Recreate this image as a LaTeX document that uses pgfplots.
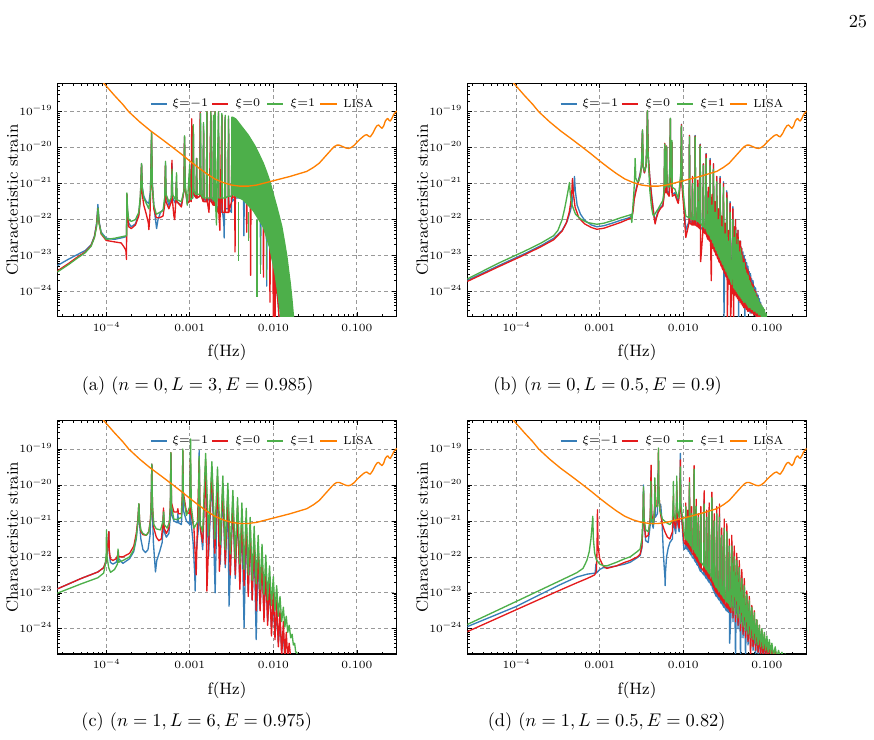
\RequirePackage{fix-cm}
\documentclass[border=0pt]{standalone}
\usepackage{pgfplots}
\usepackage{pgfplotstable}
\pgfplotsset{compat=1.18}
\definecolor{cB}{HTML}{377EB8}
\definecolor{cR}{HTML}{E41A1C}
\definecolor{cG}{HTML}{4DAF4A}
\definecolor{cO}{HTML}{FF7F00}
\newcommand{\ep}[1]{10\raisebox{2.5pt}{\fontsize{4.4}{5}\selectfont −#1}}
\tikzset{capt/.style={font=\fontsize{10.3}{12}\selectfont},
  lgt/.style={font=\fontsize{6.5}{7.5}\selectfont, anchor=west, inner sep=0pt}}
\pgfplotstableread{
x y
-4.07 -18.10
-3.9 -18.55
-3.8 -18.8
-3.73 -19.0
-3.6 -19.28
-3.47 -19.53
-3.33 -19.77
-3.2 -20.0
-3.1 -20.18
-3.0 -20.37
-2.9 -20.55
-2.8 -20.72
-2.7 -20.87
-2.6 -20.97
-2.5 -21.04
-2.4 -21.07
-2.3 -21.07
-2.2 -21.04
-2.1 -20.98
-2.0 -20.92
-1.9 -20.86
-1.8 -20.8
-1.7 -20.73
-1.6 -20.66
-1.52 -20.55
-1.45 -20.43
-1.4 -20.3
-1.35 -20.17
-1.3 -20.04
-1.27 -19.97
-1.24 -19.93
-1.21 -19.93
-1.17 -19.97
-1.13 -20.01
-1.1 -20.02
-1.07 -20.0
-1.03 -19.93
-1.0 -19.85
-0.96 -19.76
-0.92 -19.68
-0.9 -19.65
-0.88 -19.64
-0.86 -19.68
-0.84 -19.7
-0.81 -19.6
-0.78 -19.46
-0.76 -19.39
-0.74 -19.37
-0.72 -19.42
-0.7 -19.46
-0.68 -19.4
-0.66 -19.26
-0.64 -19.2
-0.63 -19.19
-0.615 -19.24
-0.6 -19.26
-0.58 -19.18
-0.56 -19.08
-0.54 -19.02
-0.52 -18.98
}\lisa
\pgfplotstableread{
x g r b
-1.99 -21.5 -21.8 -21.6
-1.97 -21.9 -22.5 -22.3
-1.932 -21.95 -22.1 -22.05
-1.926 -19.7 -19.66 -19.66
-1.92 -21.95 -22.1 -22.05
-1.895 -22.0 -22.15 -22.1
-1.89 -21.0 -20.8 -20.9
-1.885 -22.0 -22.15 -22.1
-1.864 -22.0 -22.15 -22.1
-1.858 -19.7 -19.68 -19.66
-1.852 -22.0 -22.15 -22.1
-1.83 -22.05 -22.2 -22.15
-1.825 -21.1 -20.9 -21.0
-1.82 -22.05 -22.2 -22.15
-1.804 -22.1 -22.25 -22.2
-1.798 -19.95 -19.92 -19.9
-1.792 -22.1 -23.17 -22.2
-1.766 -22.2 -22.35 -22.3
-1.76 -20.5 -20.45 -20.45
-1.754 -22.2 -22.35 -22.3
-1.733 -22.25 -22.4 -22.35
-1.727 -20.3 -20.18 -20.16
-1.721 -22.3 -22.45 -22.4
-1.705 -22.4 -22.55 -22.5
-1.7 -21.4 -21.1 -21.2
-1.695 -22.4 -22.55 -22.5
-1.685 -22.45 -22.6 -22.55
-1.679 -20.5 -20.35 -20.3
-1.673 -22.5 -22.65 -22.6
-1.665 -22.55 -23.7 -22.65
-1.655 -21.6 -21.3 -21.4
-1.65 -22.6 -22.75 -22.7
-1.645 -22.65 -22.8 -22.75
-1.639 -20.6 -20.45 -20.45
-1.633 -22.7 -22.85 -22.8
-1.625 -22.75 -22.9 -22.85
-1.62 -21.8 -21.5 -21.6
-1.615 -22.8 -22.95 -22.9
-1.606 -22.85 -23.0 -22.95
-1.6 -20.95 -20.8 -20.8
-1.594 -22.9 -23.05 -23.0
-1.585 -22.95 -23.1 -23.05
-1.58 -22.0 -21.7 -21.8
-1.575 -23.0 -23.15 -23.1
-1.565 -23.05 -23.2 -23.15
-1.559 -21.0 -20.85 -20.8
-1.553 -23.1 -23.25 -23.2
-1.545 -23.15 -23.3 -23.25
-1.54 -22.2 -21.9 -22.0
-1.535 -23.2 -23.35 -23.3
-1.525 -23.25 -23.4 -23.35
-1.519 -21.1 -21.0 -20.95
-1.513 -23.3 -23.45 -24.8
-1.505 -23.35 -23.5 -23.45
-1.5 -22.4 -22.1 -22.2
-1.495 -23.4 -23.55 -23.5
-1.485 -23.45 -23.6 -23.55
-1.479 -21.4 -21.25 -21.2
-1.473 -23.5 -24.8 -23.6
-1.465 -23.55 -23.7 -23.65
-1.46 -22.6 -22.3 -22.4
-1.455 -23.6 -23.75 -23.7
-1.446 -23.65 -23.8 -23.75
-1.44 -21.8 -21.55 -21.5
-1.434 -23.7 -24.8 -23.8
-1.42 -23.8 -23.95 -23.9
-1.407 -22.0 -21.7 -21.64
-1.398 -23.9 -24.8 -24.0
-1.39 -22.5 -22.2 -22.3
-1.382 -23.95 -24.1 -24.05
-1.375 -22.3 -22.0 -22.0
-1.367 -24.0 -24.15 -24.1
-1.36 -22.7 -22.4 -22.4
-1.352 -24.05 -24.2 -24.15
-1.345 -22.55 -22.3 -22.3
-1.337 -24.1 -24.25 -24.8
-1.33 -22.9 -22.6 -22.6
-1.322 -24.15 -24.3 -24.25
-1.315 -22.8 -22.6 -22.6
-1.307 -24.2 -24.35 -24.3
-1.3 -23.0 -22.8 -22.8
-1.292 -24.25 -24.4 -24.35
-1.285 -23.2 -23.0 -22.9
-1.277 -24.3 -24.45 -24.4
-1.27 -23.2 -23.1 -23.0
-1.262 -24.3 -24.45 -24.8
-1.255 -23.4 -23.2 -23.1
-1.247 -24.35 -24.5 -24.45
-1.24 -23.5 -23.35 -23.2
-1.232 -24.4 -24.55 -24.5
-1.225 -23.55 -23.4 -23.3
-1.217 -24.45 -24.55 -24.55
-1.21 -23.7 -23.55 -23.45
-1.202 -24.45 -24.55 -24.6
-1.195 -23.75 -23.6 -23.5
-1.187 -24.5 -24.6 -24.6
-1.18 -23.85 -23.75 -23.65
-1.172 -24.5 -24.6 -24.6
-1.165 -23.9 -23.8 -23.7
-1.157 -24.55 -24.65 -24.65
-1.15 -24.0 -23.95 -23.85
-1.142 -24.55 -24.65 -24.65
-1.135 -24.05 -24.0 -23.9
-1.127 -24.6 -24.7 -24.7
-1.12 -24.15 -24.1 -24.05
-1.112 -24.6 -24.7 -24.7
-1.105 -24.2 -24.2 -24.1
-1.097 -24.65 -24.75 -24.75
-1.09 -24.3 -24.3 -24.2
-1.082 -24.65 -24.75 -24.75
-1.075 -24.35 -24.35 -24.3
-1.067 -24.7 -24.8 -24.8
-1.06 -24.4 -24.45 -24.4
-1.052 -24.7 -24.8 -24.8
-1.045 -24.45 -24.5 -24.5
-1.037 -24.75 -24.8 -24.8
-1.03 -24.5 -24.6 -24.6
-1.02 -24.8 -24.8 -24.8
-1.01 -24.6 -24.7 -24.7
-1.0 -24.8 -24.8 -24.8
}\tailb
\pgfplotstableread{
x g r b
-1.99 -21.3 -21.6 -21.8
-1.975 -21.5 -21.65 -21.75
-1.97 -20.6 -20.5 -20.7
-1.965 -21.5 -21.65 -21.75
-1.95 -21.55 -21.7 -21.8
-1.945 -20.9 -20.7 -21.0
-1.94 -21.6 -21.75 -21.85
-1.931 -21.6 -21.75 -21.85
-1.926 -19.93 -19.8 -20.1
-1.921 -21.65 -21.8 -21.9
-1.905 -21.7 -21.85 -21.95
-1.9 -20.8 -20.6 -20.9
-1.895 -21.75 -21.9 -22.0
-1.875 -21.8 -21.95 -22.05
-1.87 -19.56 -19.46 -19.7
-1.865 -21.85 -22.0 -22.1
-1.85 -21.9 -22.05 -22.15
-1.845 -20.6 -20.4 -20.7
-1.84 -21.95 -22.1 -22.2
-1.823 -22.0 -22.15 -22.25
-1.818 -20.9 -20.8 -21.0
-1.813 -22.05 -22.2 -22.3
-1.795 -22.15 -22.3 -22.4
-1.79 -20.8 -20.6 -20.9
-1.785 -22.15 -22.3 -22.4
-1.755 -22.25 -22.4 -22.5
-1.75 -20.53 -20.16 -20.4
-1.745 -22.25 -22.4 -22.5
-1.725 -22.35 -22.5 -22.6
-1.72 -20.9 -20.7 -20.9
-1.715 -22.35 -22.5 -22.6
-1.695 -22.45 -22.6 -22.7
-1.69 -20.7 -20.5 -20.7
-1.685 -22.45 -22.6 -22.7
-1.663 -22.55 -22.7 -22.8
-1.658 -20.35 -20.2 -20.4
-1.653 -22.6 -22.75 -22.85
-1.635 -22.7 -22.85 -22.95
-1.63 -21.0 -20.8 -21.0
-1.625 -22.75 -22.9 -23.0
-1.605 -22.85 -23.0 -23.1
-1.6 -20.8 -20.6 -20.8
-1.595 -22.85 -23.0 -23.1
-1.572 -22.95 -23.1 -23.2
-1.567 -20.9 -20.53 -20.8
-1.562 -22.95 -23.1 -23.2
-1.545 -23.05 -23.2 -23.3
-1.54 -21.4 -21.2 -21.4
-1.535 -23.05 -23.2 -23.3
-1.515 -23.15 -23.3 -23.4
-1.51 -21.2 -20.95 -21.2
-1.505 -23.15 -23.3 -23.4
-1.484 -23.25 -23.4 -23.5
-1.479 -21.3 -21.08 -21.3
-1.474 -23.25 -23.4 -23.5
-1.455 -23.3 -23.45 -23.55
-1.45 -21.7 -21.5 -21.7
-1.445 -23.35 -23.5 -24.4
-1.43 -23.4 -23.55 -23.65
-1.42 -21.7 -21.4 -21.6
-1.405 -23.5 -23.7 -23.8
-1.39 -22.0 -21.7 -21.9
-1.375 -23.6 -23.8 -24.8
-1.36 -22.1 -21.9 -22.1
-1.345 -23.7 -23.9 -24.0
-1.33 -22.3 -22.1 -22.3
-1.315 -23.85 -24.05 -24.8
-1.3 -22.6 -22.35 -22.55
-1.285 -23.95 -24.15 -24.25
-1.27 -22.8 -22.6 -22.8
-1.255 -24.05 -24.25 -24.8
-1.24 -23.05 -22.95 -23.1
-1.225 -24.15 -24.35 -24.45
-1.21 -23.2 -23.1 -23.3
-1.195 -24.25 -24.8 -24.55
-1.18 -23.4 -23.35 -23.5
-1.165 -24.3 -24.5 -24.6
-1.15 -23.55 -23.5 -23.7
-1.135 -24.4 -24.6 -24.8
-1.12 -23.75 -23.75 -23.9
-1.105 -24.45 -24.65 -24.75
-1.09 -23.9 -23.9 -24.05
-1.075 -24.5 -24.8 -24.8
-1.06 -24.0 -24.05 -24.2
-1.045 -24.55 -24.75 -24.8
-1.03 -24.1 -24.15 -24.35
-1.015 -24.6 -24.8 -24.8
-1.0 -24.2 -24.3 -24.5
-0.985 -24.65 -24.8 -24.8
-0.97 -24.3 -24.4 -24.8
-0.955 -24.7 -24.8 -24.8
-0.94 -24.4 -24.5 -24.8
-0.92 -24.75 -24.8 -24.8
-0.9 -24.5 -24.6 -24.8
-0.88 -24.8 -24.8 -24.8
-0.86 -24.6 -24.65 -24.8
-0.84 -24.8 -24.8 -24.8
-0.82 -24.65 -24.8 -24.8
-0.8 -24.8 -24.8 -24.8
-0.78 -24.7 -24.8 -24.8
-0.77 -24.8 -24.8 -24.8
}\taild
\pgfplotsset{
  panel/.style={
    scale only axis, width=190.7pt, height=131.1pt,
    xmin=-4.585, xmax=-0.523, ymin=-24.70, ymax=-18.21,
    xtick={-4,-3,-2,-1},
    xticklabels={\ep{4},0.001,0.010,0.100},
    ytick={-24,-23,-22,-21,-20,-19},
    yticklabels={\ep{24},\ep{23},\ep{22},\ep{21},\ep{20},\ep{19}},
    minor xtick={-4.523,-4.398,-4.301,-4.222,-4.155,-4.097,-4.046,-3.699,-3.523,-3.398,-3.301,-3.222,-3.155,-3.097,-3.046,-2.699,-2.523,-2.398,-2.301,-2.222,-2.155,-2.097,-2.046,-1.699,-1.523,-1.398,-1.301,-1.222,-1.155,-1.097,-1.046,-0.699},
    minor ytick={-24.523,-24.398,-24.301,-24.222,-24.155,-24.097,-24.046,-23.699,-23.523,-23.398,-23.301,-23.222,-23.155,-23.097,-23.046,-22.699,-22.523,-22.398,-22.301,-22.222,-22.155,-22.097,-22.046,-21.699,-21.523,-21.398,-21.301,-21.222,-21.155,-21.097,-21.046,-20.699,-20.523,-20.398,-20.301,-20.222,-20.155,-20.097,-20.046,-19.699,-19.523,-19.398,-19.301,-19.222,-19.155,-19.097,-19.046,-18.699,-18.523,-18.398,-18.301,-18.222},
    tick pos=both, tick align=inside,
    major tick length=2.4pt, minor tick length=1.3pt,
    every tick/.style={black, line width=0.4pt},
    axis line style={line width=0.6pt},
    grid=major,
    major grid style={black!40, line width=0.45pt, dash pattern=on 2pt off 1.6pt},
    ticklabel style={font=\fontsize{6.2}{7}\selectfont},
    xticklabel style={anchor=base, yshift=-8.4pt},
    yticklabel style={anchor=base east, yshift=-2.0pt, xshift=-3pt, inner sep=0pt},
    xlabel={f(Hz)}, ylabel={Characteristic strain},
    xlabel style={font=\fontsize{9.3}{11}\selectfont, at={([yshift=-20.2pt]axis description cs:0.5,0)}, anchor=center},
    ylabel style={font=\fontsize{9.2}{11}\selectfont, at={([xshift=-25.3pt]axis description cs:0,0.5)}, anchor=center},
    every axis plot/.append style={line width=0.75pt, line join=round, forget plot},
  }
}
\newcommand{\lgd}[2]{%
  \begin{scope}[shift={(#1,#2)}]
  \draw[cB,line width=0.9pt] (84.7pt,0pt) -- (93.7pt,0pt);
  \node[lgt] at (96.6pt,0pt) {$\xi{=}{-}1$};
  \draw[cR,line width=0.9pt] (119.1pt,0pt) -- (128.1pt,0pt);
  \node[lgt] at (132pt,0pt) {$\xi{=}0$};
  \draw[cG,line width=0.9pt] (150pt,0pt) -- (159pt,0pt);
  \node[lgt] at (162.9pt,0pt) {$\xi{=}1$};
  \draw[cO,line width=0.9pt] (179.8pt,0pt) -- (189.3pt,0pt);
  \node[lgt] at (192.7pt,0pt) {LISA};
  \end{scope}}
\begin{document}
\begin{tikzpicture}
\path[use as bounding box] (0,0) rectangle (491pt,415.7pt);
% ---------------- (a)
\begin{axis}[panel, at={(32.19pt,237.8pt)}, anchor=south west]
\addplot[cB] coordinates {(-4.585,-23.28) (-4.45,-23.1) (-4.35,-22.98) (-4.25,-22.86) (-4.18,-22.7) (-4.14,-22.45) (-4.115,-22.1) (-4.099,-21.58) (-4.085,-22.05) (-4.06,-22.35) (-4.0,-22.52) (-3.9,-22.55) (-3.8,-22.5) (-3.757,-22.47) (-3.752,-21.3) (-3.745,-21.75) (-3.73,-22.1) (-3.7,-22.2) (-3.65,-22.12) (-3.61,-21.85) (-3.59,-21.4) (-3.577,-20.44) (-3.568,-21.1) (-3.55,-21.35) (-3.52,-21.5) (-3.49,-21.55) (-3.47,-21.2) (-3.458,-19.7) (-3.448,-21.0) (-3.43,-21.6) (-3.41,-22.0) (-3.397,-22.25) (-3.38,-22.0) (-3.35,-21.8) (-3.31,-21.7) (-3.295,-21.3) (-3.29,-20.42) (-3.283,-21.35) (-3.25,-21.6) (-3.22,-21.4) (-3.212,-20.45) (-3.205,-21.4) (-3.17,-21.55) (-3.16,-20.95) (-3.153,-21.5) (-3.1,-21.6) (-3.07,-21.2) (-3.063,-19.7) (-3.056,-21.1) (-3.03,-21.5) (-3.005,-21.5) (-3.0,-20.5) (-2.994,-21.45) (-2.965,-21.4) (-2.958,-19.4) (-2.951,-21.3) (-2.923,-21.4) (-2.918,-20.3) (-2.913,-21.4) (-2.88,-21.35) (-2.873,-19.05) (-2.866,-21.3) (-2.84,-21.4) (-2.835,-19.35) (-2.83,-21.4) (-2.8,-21.5) (-2.795,-19.05) (-2.79,-21.4) (-2.755,-21.5) (-2.748,-19.05) (-2.742,-21.4) (-2.72,-21.5) (-2.715,-19.25) (-2.71,-21.5) (-2.7,-21.6) (-2.696,-19.05) (-2.692,-21.6) (-2.66,-21.7) (-2.656,-19.05) (-2.652,-21.6) (-2.62,-21.8) (-2.616,-19.1) (-2.612,-21.7) (-2.592,-22.1) (-2.588,-22.51) (-2.584,-21.7) (-2.576,-19.15) (-2.572,-21.7) (-2.54,-21.7) (-2.536,-19.2) (-2.532,-21.7) (-2.5,-21.8) (-2.496,-19.25) (-2.492,-21.5) (-2.46,-21.4) (-2.456,-19.4) (-2.452,-21.4) (-2.42,-21.4) (-2.416,-19.5) (-2.412,-21.4) (-2.38,-21.4) (-2.376,-19.65) (-2.372,-21.4) (-2.356,-21.45) (-2.352,-22.45) (-2.348,-21.45) (-2.34,-19.8) (-2.336,-21.5) (-2.3,-21.55) (-2.296,-19.95) (-2.292,-21.6) (-2.26,-21.65) (-2.256,-20.1) (-2.252,-21.7) (-2.22,-21.75) (-2.216,-20.3) (-2.212,-21.8) (-2.18,-21.9) (-2.176,-20.5) (-2.172,-21.95) (-2.156,-22.0) (-2.152,-23.25) (-2.148,-22.0) (-2.14,-20.8) (-2.136,-22.1) (-2.1,-22.2) (-2.096,-21.1) (-2.092,-22.3) (-2.083,-22.4) (-2.079,-23.85) (-2.075,-22.5) (-2.06,-21.5) (-2.056,-22.6) (-2.03,-22.9) (-2.026,-22.0) (-2.022,-23.0) (-2.0,-23.2) (-1.996,-22.6) (-1.992,-23.3) (-1.96,-23.9) (-1.94,-24.4) (-1.93,-24.8)};
\addplot[cR] coordinates {(-4.585,-23.43) (-4.45,-23.22) (-4.35,-23.05) (-4.25,-22.9) (-4.18,-22.72) (-4.14,-22.48) (-4.115,-22.15) (-4.099,-21.7) (-4.085,-22.1) (-4.06,-22.4) (-4.0,-22.58) (-3.9,-22.62) (-3.82,-22.65) (-3.79,-22.75) (-3.765,-22.85) (-3.757,-23.11) (-3.753,-21.3) (-3.745,-21.8) (-3.73,-22.2) (-3.7,-22.25) (-3.65,-22.15) (-3.61,-21.9) (-3.59,-21.4) (-3.577,-20.46) (-3.568,-21.3) (-3.55,-21.6) (-3.52,-21.85) (-3.495,-22.1) (-3.489,-22.28) (-3.475,-21.8) (-3.462,-20.5) (-3.457,-19.58) (-3.45,-21.0) (-3.43,-21.7) (-3.4,-21.95) (-3.36,-21.95) (-3.32,-21.9) (-3.3,-21.6) (-3.292,-20.5) (-3.284,-21.5) (-3.25,-21.7) (-3.22,-21.5) (-3.213,-20.35) (-3.206,-21.5) (-3.19,-21.9) (-3.18,-22.0) (-3.17,-21.6) (-3.16,-20.95) (-3.153,-21.5) (-3.1,-21.65) (-3.07,-21.2) (-3.063,-19.7) (-3.056,-21.1) (-3.03,-21.55) (-3.005,-21.5) (-3.0,-20.6) (-2.994,-21.45) (-2.982,-21.5) (-2.976,-19.2) (-2.97,-21.4) (-2.958,-19.4) (-2.951,-21.3) (-2.923,-21.4) (-2.918,-20.3) (-2.913,-21.4) (-2.88,-21.35) (-2.875,-19.02) (-2.868,-21.3) (-2.84,-21.5) (-2.835,-19.4) (-2.83,-21.5) (-2.8,-21.5) (-2.795,-19.0) (-2.79,-21.5) (-2.77,-21.8) (-2.765,-21.5) (-2.748,-19.0) (-2.742,-21.5) (-2.72,-21.6) (-2.715,-19.25) (-2.71,-21.6) (-2.7,-21.6) (-2.696,-19.0) (-2.692,-21.6) (-2.66,-21.8) (-2.656,-19.02) (-2.652,-21.8) (-2.64,-22.3) (-2.636,-21.8) (-2.616,-19.1) (-2.612,-21.8) (-2.58,-21.8) (-2.576,-19.15) (-2.572,-21.8) (-2.54,-21.8) (-2.536,-19.2) (-2.532,-21.8) (-2.5,-21.5) (-2.496,-19.25) (-2.492,-21.4) (-2.462,-21.35) (-2.458,-22.9) (-2.454,-21.35) (-2.44,-19.4) (-2.436,-21.35) (-2.4,-21.35) (-2.396,-19.55) (-2.392,-21.35) (-2.36,-21.35) (-2.356,-19.7) (-2.352,-21.4) (-2.322,-21.45) (-2.318,-22.35) (-2.314,-21.45) (-2.3,-19.9) (-2.296,-21.5) (-2.276,-21.55) (-2.272,-23.55) (-2.268,-21.6) (-2.26,-20.1) (-2.256,-21.6) (-2.22,-21.65) (-2.216,-20.3) (-2.212,-21.7) (-2.18,-21.8) (-2.176,-20.5) (-2.172,-21.8) (-2.14,-21.9) (-2.136,-20.8) (-2.132,-21.95) (-2.122,-22.0) (-2.118,-23.6) (-2.114,-22.0) (-2.096,-21.1) (-2.092,-22.2) (-2.06,-22.4) (-2.056,-21.5) (-2.052,-22.5) (-2.044,-22.6) (-2.04,-24.3) (-2.036,-22.7) (-2.026,-22.0) (-2.022,-22.9) (-2.004,-23.2) (-2.0,-24.8) (-1.995,-22.6) (-1.99,-23.4) (-1.98,-23.6) (-1.978,-24.8) (-1.974,-23.4) (-1.96,-23.9) (-1.94,-24.4) (-1.93,-24.8)};
\addplot[cG] coordinates {(-4.585,-23.46) (-4.45,-23.25) (-4.35,-23.08) (-4.25,-22.92) (-4.18,-22.74) (-4.14,-22.5) (-4.115,-22.2) (-4.097,-21.68) (-4.085,-22.1) (-4.06,-22.38) (-4.0,-22.55) (-3.9,-22.52) (-3.8,-22.47) (-3.756,-22.45) (-3.752,-21.26) (-3.745,-21.7) (-3.73,-22.0) (-3.7,-22.05) (-3.65,-22.0) (-3.61,-21.8) (-3.59,-21.3) (-3.577,-20.44) (-3.568,-21.1) (-3.55,-21.4) (-3.52,-21.55) (-3.49,-21.7) (-3.47,-21.3) (-3.457,-19.55) (-3.448,-21.0) (-3.43,-21.6) (-3.4,-21.85) (-3.36,-21.8) (-3.32,-21.75) (-3.3,-21.4) (-3.29,-20.38) (-3.283,-21.3) (-3.25,-21.5) (-3.22,-21.4) (-3.212,-20.6) (-3.205,-21.3) (-3.17,-21.45) (-3.158,-20.7) (-3.152,-21.45) (-3.1,-21.5) (-3.07,-21.2) (-3.062,-19.67) (-3.055,-21.0) (-3.03,-21.6) (-3.0,-20.45) (-2.994,-21.45) (-2.965,-21.4) (-2.958,-19.36) (-2.951,-21.2) (-2.923,-21.3) (-2.918,-20.3) (-2.913,-21.3) (-2.88,-21.3) (-2.871,-19.05) (-2.866,-21.3) (-2.84,-21.4) (-2.835,-19.3) (-2.83,-21.4) (-2.8,-21.4) (-2.795,-19.0) (-2.79,-21.4) (-2.755,-21.4) (-2.748,-19.0) (-2.742,-21.4) (-2.72,-21.45) (-2.715,-19.1) (-2.71,-21.45) (-2.7,-21.5) (-2.696,-19.0) (-2.692,-21.5) (-2.68,-22.15) (-2.676,-21.5) (-2.656,-19.0) (-2.652,-21.4) (-2.62,-21.4) (-2.616,-19.05) (-2.612,-21.4) (-2.58,-21.4) (-2.576,-19.1) (-2.572,-21.4) (-2.54,-21.35) (-2.536,-19.12) (-2.532,-21.35) (-2.5,-21.35) (-2.496,-19.15) (-2.49,-21.3)};
\addplot[cG, fill=cG] coordinates {(-2.49,-19.15) (-2.45,-19.2) (-2.4,-19.35) (-2.3,-19.65) (-2.22,-19.95) (-2.157,-20.25) (-2.117,-20.45) (-2.077,-20.7) (-2.047,-20.9) (-2.017,-21.15) (-1.988,-21.4) (-1.958,-21.65) (-1.928,-21.92) (-1.898,-22.2) (-1.868,-22.6) (-1.838,-23.02) (-1.818,-23.4) (-1.798,-23.76) (-1.778,-24.2) (-1.758,-24.72) (-1.91,-24.72) (-1.93,-24.3) (-1.98,-23.5) (-2.04,-22.8) (-2.12,-22.2) (-2.24,-21.75) (-2.36,-21.45) (-2.49,-21.3)} -- cycle;
\addplot[cG] coordinates {(-2.417,-21.5) (-2.417,-23.16)};
\addplot[cG] coordinates {(-2.3,-21.8) (-2.3,-22.6)};
\addplot[cG] coordinates {(-2.197,-22.0) (-2.197,-24.14)};
\addplot[cG] coordinates {(-2.15,-22.2) (-2.15,-23.5)};
\addplot[cG] coordinates {(-2.078,-22.6) (-2.078,-23.67)};
\addplot[cO] table[x=x,y=y] {\lisa};
\end{axis}
% ---------------- (b)
\begin{axis}[panel, at={(262.5pt,237.8pt)}, anchor=south west]
\addplot[cB] coordinates {(-4.585,-23.69) (-4.2,-23.27) (-3.9,-22.95) (-3.7,-22.72) (-3.55,-22.52) (-3.45,-22.3) (-3.39,-22.05) (-3.35,-21.75) (-3.325,-21.45) (-3.31,-21.15) (-3.302,-20.8) (-3.292,-21.2) (-3.27,-21.6) (-3.23,-21.85) (-3.18,-22.02) (-3.1,-22.15) (-3.035,-22.2) (-2.95,-22.17) (-2.85,-22.1) (-2.75,-22.02) (-2.65,-21.95) (-2.615,-21.9) (-2.6,-21.7) (-2.588,-21.4) (-2.57,-21.2) (-2.55,-21.0) (-2.536,-20.9) (-2.52,-20.75) (-2.5,-20.5) (-2.49,-19.55) (-2.482,-20.5) (-2.465,-20.7) (-2.445,-20.5) (-2.436,-19.9) (-2.429,-18.98) (-2.42,-20.2) (-2.4,-20.85) (-2.38,-21.3) (-2.36,-21.7) (-2.345,-21.95) (-2.335,-22.08) (-2.325,-21.95) (-2.3,-21.75) (-2.27,-21.65) (-2.245,-21.6) (-2.23,-21.3) (-2.222,-19.9) (-2.214,-21.2) (-2.205,-21.2) (-2.2,-19.97) (-2.195,-21.2) (-2.17,-21.3) (-2.16,-20.5) (-2.155,-19.2) (-2.148,-20.8) (-2.14,-21.2) (-2.137,-19.85) (-2.132,-21.3) (-2.1,-21.25) (-2.07,-21.45) (-2.06,-21.5) (-2.05,-21.3) (-2.03,-20.8) (-2.022,-19.35) (-2.014,-21.0) (-1.99,-21.6)};
\addplot[cB] table[x=x,y=b] {\tailb};
\addplot[cR] coordinates {(-4.585,-23.72) (-4.2,-23.3) (-3.9,-22.98) (-3.7,-22.75) (-3.55,-22.56) (-3.45,-22.32) (-3.4,-22.1) (-3.365,-21.8) (-3.345,-21.5) (-3.333,-21.2) (-3.326,-20.86) (-3.316,-21.25) (-3.295,-21.65) (-3.25,-21.95) (-3.18,-22.12) (-3.1,-22.22) (-3.035,-22.27) (-2.95,-22.24) (-2.85,-22.16) (-2.75,-22.08) (-2.65,-21.98) (-2.615,-21.95) (-2.6,-21.75) (-2.588,-21.45) (-2.57,-21.25) (-2.55,-21.05) (-2.536,-20.95) (-2.52,-20.8) (-2.5,-20.55) (-2.488,-19.52) (-2.48,-20.5) (-2.465,-20.7) (-2.445,-20.5) (-2.436,-19.9) (-2.429,-18.97) (-2.42,-20.2) (-2.4,-20.85) (-2.38,-21.35) (-2.36,-21.75) (-2.345,-22.0) (-2.337,-22.12) (-2.327,-22.0) (-2.3,-21.8) (-2.27,-21.68) (-2.245,-21.63) (-2.23,-21.35) (-2.222,-19.88) (-2.214,-21.25) (-2.205,-21.25) (-2.2,-19.95) (-2.195,-21.25) (-2.17,-21.35) (-2.16,-20.5) (-2.155,-19.2) (-2.148,-20.8) (-2.14,-21.25) (-2.137,-19.85) (-2.132,-21.35) (-2.1,-21.3) (-2.07,-21.5) (-2.06,-21.55) (-2.05,-21.35) (-2.03,-20.85) (-2.022,-19.36) (-2.014,-21.1) (-1.99,-21.8)};
\addplot[cR] table[x=x,y=r] {\tailb};
\addplot[cG] coordinates {(-4.585,-23.65) (-4.2,-23.2) (-3.9,-22.88) (-3.7,-22.65) (-3.553,-22.45) (-3.5,-22.3) (-3.45,-22.0) (-3.42,-21.7) (-3.395,-21.4) (-3.375,-21.15) (-3.362,-20.97) (-3.352,-21.3) (-3.33,-21.6) (-3.29,-21.85) (-3.23,-21.98) (-3.15,-22.08) (-3.035,-22.13) (-2.95,-22.1) (-2.85,-22.03) (-2.75,-21.95) (-2.65,-21.88) (-2.625,-21.86) (-2.616,-22.08) (-2.605,-21.7) (-2.59,-21.2) (-2.582,-20.8) (-2.576,-20.3) (-2.568,-20.85) (-2.55,-20.95) (-2.53,-20.92) (-2.51,-20.75) (-2.498,-20.4) (-2.488,-19.5) (-2.478,-20.55) (-2.46,-20.65) (-2.445,-20.45) (-2.436,-19.9) (-2.429,-18.97) (-2.42,-20.3) (-2.4,-21.2) (-2.38,-21.65) (-2.365,-21.85) (-2.355,-21.9) (-2.3,-21.7) (-2.245,-21.47) (-2.23,-21.2) (-2.222,-19.9) (-2.214,-21.1) (-2.205,-21.05) (-2.2,-19.97) (-2.195,-21.05) (-2.17,-21.1) (-2.16,-20.4) (-2.155,-19.18) (-2.148,-20.7) (-2.14,-21.05) (-2.137,-19.8) (-2.132,-21.1) (-2.1,-21.15) (-2.07,-21.35) (-2.06,-21.4) (-2.05,-21.2) (-2.03,-20.7) (-2.022,-19.4) (-2.014,-20.9) (-1.99,-21.5)};
\addplot[cG] table[x=x,y=g] {\tailb};
\addplot[cO] table[x=x,y=y] {\lisa};
\end{axis}
% ---------------- (c)
\begin{axis}[panel, at={(32.19pt,48.3pt)}, anchor=south west]
\addplot[cB] coordinates {(-4.585,-22.89) (-4.3,-22.6) (-4.1,-22.42) (-4.03,-22.3) (-4.0,-22.1) (-3.985,-21.8) (-3.975,-21.5) (-3.968,-21.3) (-3.962,-21.9) (-3.95,-22.15) (-3.92,-22.2) (-3.88,-22.15) (-3.862,-22.0) (-3.856,-21.9) (-3.85,-22.05) (-3.8,-22.18) (-3.72,-22.05) (-3.67,-21.85) (-3.64,-21.5) (-3.62,-21.0) (-3.609,-20.55) (-3.6,-21.1) (-3.585,-21.5) (-3.56,-21.8) (-3.53,-21.88) (-3.5,-21.8) (-3.475,-21.4) (-3.462,-20.6) (-3.454,-19.42) (-3.446,-20.8) (-3.435,-21.6) (-3.42,-22.1) (-3.41,-22.42) (-3.395,-22.1) (-3.36,-21.85) (-3.33,-21.6) (-3.32,-21.2) (-3.314,-20.75) (-3.306,-21.3) (-3.28,-21.45) (-3.25,-21.35) (-3.232,-20.9) (-3.226,-19.15) (-3.218,-20.8) (-3.19,-21.0) (-3.15,-21.05) (-3.142,-20.8) (-3.135,-21.05) (-3.1,-21.1) (-3.088,-20.5) (-3.083,-19.3) (-3.077,-20.7) (-3.04,-21.0) (-3.0,-21.1) (-2.993,-19.5) (-2.985,-21.0) (-2.96,-21.6) (-2.94,-22.5) (-2.935,-22.95) (-2.928,-22.0) (-2.9,-21.3) (-2.887,-19.04) (-2.88,-21.0) (-2.845,-21.8) (-2.81,-19.5) (-2.775,-22.0) (-2.735,-19.7) (-2.696,-23.0) (-2.668,-19.9) (-2.635,-22.2) (-2.604,-20.15) (-2.575,-22.3) (-2.544,-20.35) (-2.53,-23.37) (-2.484,-20.55) (-2.455,-22.6) (-2.428,-20.75) (-2.4,-22.75) (-2.376,-20.9) (-2.35,-23.97) (-2.324,-21.1) (-2.3,-23.0) (-2.277,-21.35) (-2.253,-23.2) (-2.229,-21.6) (-2.205,-24.3) (-2.181,-21.9) (-2.158,-23.45) (-2.135,-22.15) (-2.112,-23.6) (-2.09,-22.5) (-2.068,-23.8) (-2.045,-22.85) (-2.022,-24.0) (-2.0,-23.2) (-1.98,-24.2) (-1.96,-23.5) (-1.94,-24.4) (-1.92,-23.8) (-1.9,-24.6) (-1.88,-24.1) (-1.862,-24.8)};
\addplot[cR] coordinates {(-4.585,-22.89) (-4.3,-22.6) (-4.1,-22.42) (-4.03,-22.3) (-4.0,-22.1) (-3.985,-21.8) (-3.975,-21.5) (-3.968,-21.3) (-3.962,-21.85) (-3.95,-22.05) (-3.92,-22.1) (-3.88,-22.05) (-3.862,-21.95) (-3.856,-21.83) (-3.85,-22.0) (-3.8,-22.0) (-3.72,-21.9) (-3.67,-21.7) (-3.64,-21.35) (-3.62,-20.95) (-3.609,-20.53) (-3.6,-21.0) (-3.585,-21.3) (-3.56,-21.38) (-3.52,-21.4) (-3.49,-21.3) (-3.47,-20.95) (-3.46,-20.4) (-3.454,-19.42) (-3.446,-20.6) (-3.43,-21.2) (-3.4,-21.45) (-3.37,-21.55) (-3.34,-21.5) (-3.322,-21.1) (-3.314,-20.64) (-3.306,-21.2) (-3.28,-21.35) (-3.25,-21.2) (-3.232,-20.6) (-3.226,-19.1) (-3.218,-20.5) (-3.19,-20.75) (-3.15,-20.75) (-3.142,-20.66) (-3.135,-20.8) (-3.1,-20.8) (-3.088,-20.2) (-3.083,-19.02) (-3.077,-20.2) (-3.04,-20.75) (-3.0,-20.8) (-2.992,-19.3) (-2.985,-20.8) (-2.95,-21.2) (-2.923,-22.5) (-2.91,-21.3) (-2.887,-19.3) (-2.875,-21.2) (-2.845,-21.6) (-2.81,-19.35) (-2.795,-22.95) (-2.775,-21.7) (-2.735,-19.6) (-2.7,-21.9) (-2.668,-19.75) (-2.645,-22.4) (-2.604,-20.0) (-2.575,-22.2) (-2.544,-20.2) (-2.515,-22.5) (-2.484,-20.4) (-2.455,-22.5) (-2.428,-20.6) (-2.4,-22.9) (-2.376,-20.75) (-2.35,-22.8) (-2.324,-20.95) (-2.3,-23.1) (-2.277,-21.15) (-2.253,-23.2) (-2.229,-21.4) (-2.205,-23.5) (-2.181,-21.7) (-2.158,-23.5) (-2.135,-21.95) (-2.112,-23.8) (-2.09,-22.25) (-2.068,-23.9) (-2.045,-22.6) (-2.022,-24.2) (-2.0,-22.9) (-1.98,-24.3) (-1.96,-23.2) (-1.94,-24.5) (-1.92,-23.5) (-1.9,-24.8) (-1.88,-23.8) (-1.862,-24.8) (-1.845,-24.1) (-1.828,-24.8) (-1.81,-24.4) (-1.792,-24.8)};
\addplot[cG] coordinates {(-4.585,-23.01) (-4.3,-22.75) (-4.1,-22.58) (-4.03,-22.45) (-4.01,-22.2) (-4.0,-21.9) (-3.996,-21.25) (-3.99,-22.0) (-3.97,-22.3) (-3.948,-22.43) (-3.9,-22.35) (-3.865,-22.2) (-3.858,-21.78) (-3.852,-22.15) (-3.8,-22.1) (-3.72,-22.0) (-3.67,-21.8) (-3.64,-21.45) (-3.62,-21.0) (-3.609,-20.52) (-3.6,-21.0) (-3.585,-21.25) (-3.56,-21.35) (-3.52,-21.4) (-3.49,-21.3) (-3.47,-21.0) (-3.46,-20.4) (-3.454,-19.42) (-3.446,-20.6) (-3.43,-21.1) (-3.4,-21.22) (-3.35,-21.25) (-3.32,-21.0) (-3.312,-20.75) (-3.305,-21.1) (-3.27,-21.2) (-3.24,-21.0) (-3.232,-20.5) (-3.226,-19.1) (-3.218,-20.6) (-3.19,-20.95) (-3.15,-20.96) (-3.1,-20.9) (-3.088,-20.3) (-3.083,-19.0) (-3.077,-20.3) (-3.04,-20.85) (-3.0,-20.6) (-2.99,-18.72) (-2.982,-20.6) (-2.95,-21.2) (-2.9,-21.0) (-2.887,-19.2) (-2.875,-21.1) (-2.845,-21.3) (-2.81,-19.12) (-2.775,-21.4) (-2.735,-19.35) (-2.7,-21.5) (-2.668,-19.5) (-2.635,-21.65) (-2.604,-19.75) (-2.575,-21.8) (-2.544,-19.95) (-2.515,-21.92) (-2.484,-20.15) (-2.455,-22.05) (-2.428,-20.35) (-2.4,-22.2) (-2.376,-20.5) (-2.35,-22.35) (-2.324,-20.65) (-2.3,-22.5) (-2.277,-20.9) (-2.253,-22.65) (-2.229,-21.15) (-2.205,-22.75) (-2.181,-21.4) (-2.158,-22.9) (-2.135,-21.65) (-2.112,-23.05) (-2.09,-21.95) (-2.068,-23.2) (-2.045,-22.25) (-2.022,-23.35) (-2.0,-22.55) (-1.98,-23.5) (-1.96,-22.8) (-1.94,-23.65) (-1.92,-23.1) (-1.9,-23.8) (-1.88,-23.4) (-1.862,-23.95) (-1.845,-23.65) (-1.828,-24.1) (-1.81,-23.9) (-1.792,-24.25) (-1.775,-24.15) (-1.76,-24.45) (-1.745,-24.4) (-1.732,-24.65) (-1.72,-24.65) (-1.71,-24.8)};
\addplot[cO] table[x=x,y=y] {\lisa};
\end{axis}
% ---------------- (d)
\begin{axis}[panel, at={(262.5pt,48.3pt)}, anchor=south west]
\addplot[cB] coordinates {(-4.585,-23.94) (-4.0,-23.38) (-3.5,-22.8) (-3.274,-22.56) (-3.15,-22.48) (-3.055,-22.45) (-3.045,-22.2) (-3.04,-22.45) (-3.0,-22.35) (-2.96,-22.3) (-2.915,-22.3) (-2.8,-22.25) (-2.7,-22.2) (-2.636,-22.15) (-2.55,-22.02) (-2.516,-21.96) (-2.495,-21.75) (-2.482,-21.0) (-2.476,-20.0) (-2.47,-21.0) (-2.45,-21.55) (-2.42,-21.6) (-2.395,-21.1) (-2.385,-19.6) (-2.378,-21.0) (-2.36,-21.2) (-2.345,-20.9) (-2.34,-20.3) (-2.335,-20.9) (-2.31,-20.8) (-2.3,-19.6) (-2.29,-20.5) (-2.27,-20.55) (-2.255,-21.0) (-2.24,-21.8) (-2.228,-22.3) (-2.22,-22.55) (-2.217,-22.8) (-2.212,-22.4) (-2.2,-22.0) (-2.18,-21.75) (-2.16,-21.6) (-2.13,-21.5) (-2.122,-21.0) (-2.118,-20.5) (-2.113,-21.1) (-2.09,-21.35) (-2.082,-20.8) (-2.078,-20.2) (-2.073,-21.0) (-2.05,-21.3) (-2.04,-20.3) (-2.035,-19.12) (-2.03,-20.5) (-2.0,-21.6) (-1.99,-21.8)};
\addplot[cB] table[x=x,y=b] {\taild};
\addplot[cR] coordinates {(-4.585,-24.08) (-4.0,-23.47) (-3.5,-22.95) (-3.274,-22.72) (-3.15,-22.6) (-3.06,-22.5) (-3.04,-22.4) (-3.032,-21.8) (-3.027,-20.69) (-3.02,-21.7) (-3.0,-22.05) (-2.96,-22.25) (-2.915,-22.32) (-2.8,-22.25) (-2.7,-22.15) (-2.636,-22.1) (-2.55,-22.0) (-2.516,-21.92) (-2.495,-21.7) (-2.482,-21.0) (-2.476,-20.1) (-2.47,-21.0) (-2.45,-21.45) (-2.42,-21.4) (-2.395,-20.9) (-2.385,-19.45) (-2.378,-20.8) (-2.36,-21.1) (-2.34,-20.6) (-2.335,-20.0) (-2.33,-20.6) (-2.31,-20.6) (-2.302,-20.0) (-2.297,-19.0) (-2.292,-20.2) (-2.28,-20.7) (-2.25,-21.1) (-2.22,-21.3) (-2.19,-21.45) (-2.16,-21.5) (-2.13,-21.3) (-2.122,-20.8) (-2.118,-20.3) (-2.113,-21.0) (-2.09,-21.2) (-2.082,-20.6) (-2.078,-20.0) (-2.073,-20.9) (-2.05,-21.2) (-2.04,-20.4) (-2.035,-19.3) (-2.03,-20.6) (-2.0,-21.4) (-1.99,-21.6)};
\addplot[cR] table[x=x,y=r] {\taild};
\addplot[cG] coordinates {(-4.585,-23.88) (-4.0,-23.24) (-3.5,-22.69) (-3.274,-22.44) (-3.2,-22.32) (-3.154,-22.1) (-3.125,-21.85) (-3.105,-21.5) (-3.092,-21.15) (-3.083,-20.87) (-3.076,-21.5) (-3.06,-21.9) (-3.04,-22.08) (-3.0,-22.2) (-2.95,-22.25) (-2.915,-22.25) (-2.8,-22.15) (-2.7,-22.05) (-2.636,-22.0) (-2.55,-21.85) (-2.516,-21.78) (-2.495,-21.5) (-2.482,-20.9) (-2.476,-20.05) (-2.47,-20.9) (-2.45,-21.25) (-2.42,-21.3) (-2.395,-21.0) (-2.388,-19.9) (-2.382,-20.9) (-2.36,-21.1) (-2.345,-20.7) (-2.34,-19.8) (-2.335,-20.6) (-2.31,-20.6) (-2.302,-20.0) (-2.297,-18.97) (-2.292,-20.2) (-2.28,-20.7) (-2.25,-20.95) (-2.2,-21.05) (-2.16,-21.1) (-2.13,-21.0) (-2.122,-20.6) (-2.118,-19.9) (-2.113,-20.8) (-2.09,-21.0) (-2.082,-20.5) (-2.078,-19.75) (-2.073,-20.7) (-2.05,-20.9) (-2.04,-20.3) (-2.035,-19.5) (-2.03,-20.5) (-2.0,-21.1) (-1.99,-21.3)};
\addplot[cG] table[x=x,y=g] {\taild};
\addplot[cO] table[x=x,y=y] {\lisa};
\end{axis}
\lgd{0pt}{357.3pt}
\lgd{230.3pt}{357.3pt}
\lgd{0pt}{168.1pt}
\lgd{230.3pt}{168.1pt}
\node[capt] at (111pt,198.9pt) {(a) $(n=0, L=3, E=0.985)$};
\node[capt] at (341.3pt,198.9pt) {(b) $(n=0, L=0.5, E=0.9)$};
\node[capt] at (110.5pt,10.1pt) {(c) $(n=1, L=6, E=0.975)$};
\node[capt] at (340.8pt,10.1pt) {(d) $(n=1, L=0.5, E=0.82)$};
\node[capt] at (482pt,403.4pt) {25};
\end{tikzpicture}
\end{document}
